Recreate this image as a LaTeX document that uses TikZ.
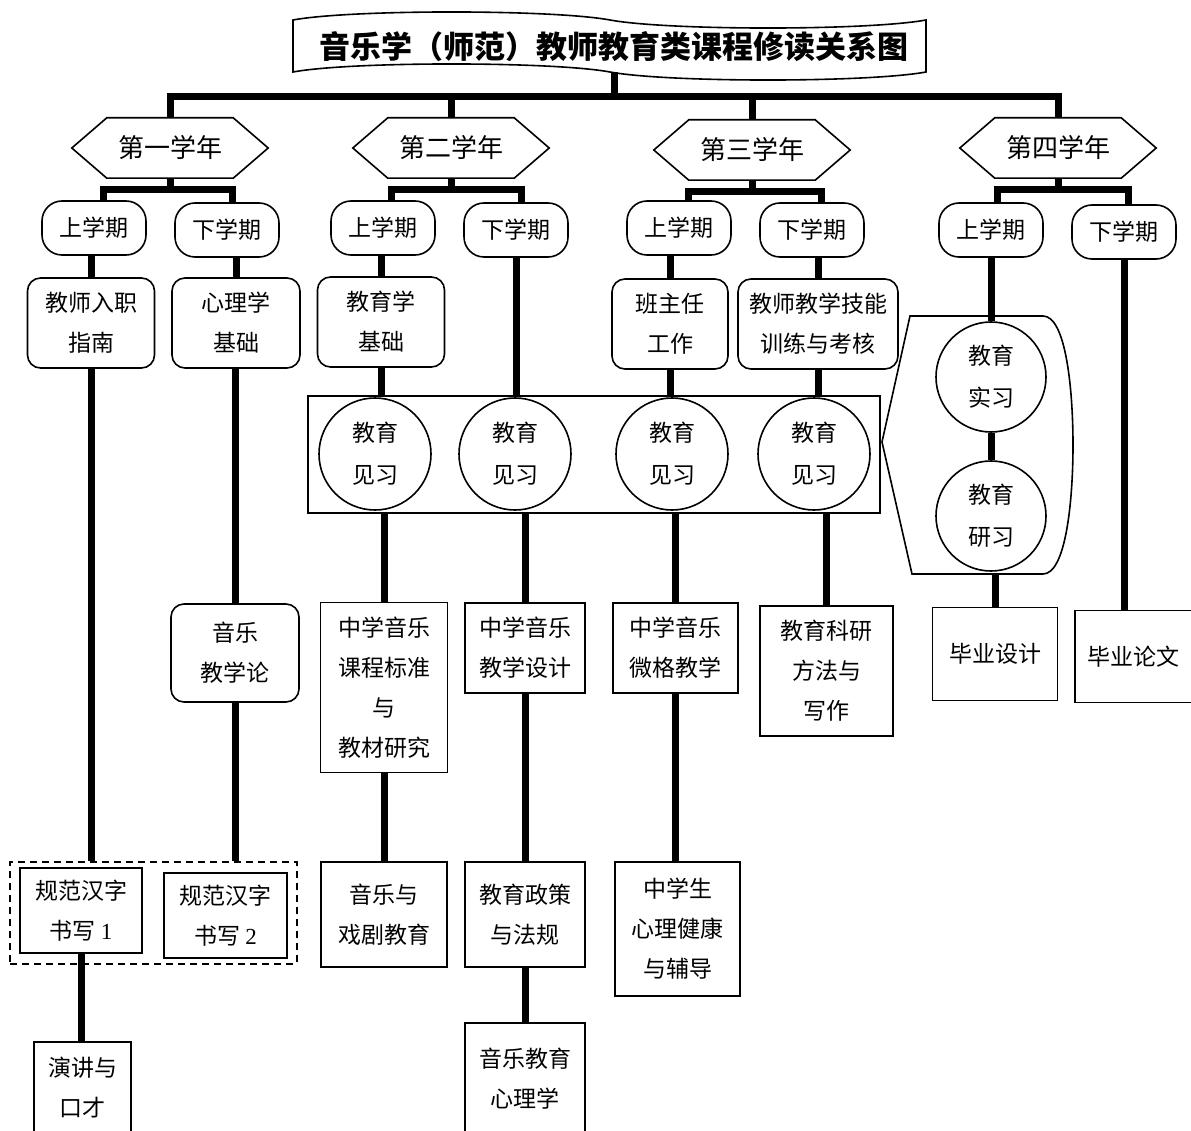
\documentclass[tikz,border=0pt]{standalone}
\usepackage{fontspec}
\setmainfont{Noto Sans CJK SC}
\newfontfamily\digf{Liberation Serif}
\usetikzlibrary{fit,calc}
\newcommand\hexfr[1]{\draw[outl] (#1.west) -- ([xshift=35pt]#1.north west) -- ([xshift=-35pt]#1.north east) -- (#1.east) -- ([xshift=-35pt]#1.south east) -- ([xshift=35pt]#1.south west) -- cycle;}
\begin{document}
\begin{tikzpicture}[x=1pt,y=-1pt,
  conn/.style={line width=7pt},
  outl/.style={line width=1.6pt},
  txt/.style={font=\fontsize{23}{40}\selectfont, align=center, inner sep=0pt},
  sem/.style={txt, draw, outl, rounded corners=20pt, minimum width=104pt, minimum height=54pt},
  rbox/.style={txt, draw, outl, rounded corners=13pt},
  pbox/.style={txt, draw, outl},
  circ/.style={txt, font=\fontsize{23}{42}\selectfont, draw, outl, circle, minimum size=112pt},
  yr/.style={font=\fontsize{26}{30}\selectfont, inner sep=0pt, minimum width=196pt, minimum height=60pt},
]
\useasboundingbox (0,0) rectangle (1191,1131);

% title banner
\draw[outl] (293,20) .. controls (351,9.3) and (552,9.3) .. (610,20) .. controls (668,30.7) and (868,30.7) .. (926,20)
  -- (926,72) .. controls (868,82.7) and (668,82.7) .. (610,72) .. controls (552,61.3) and (351,61.3) .. (293,72) -- cycle;
\node[font=\fontsize{31}{31}\selectfont\bfseries, inner sep=0pt] (ttl) at (614,47) {音乐学（师范）教师教育类课程修读关系图};
\coordinate (tb) at (614,72);
\coordinate (bus) at (614,97);

% years
\node[yr] (y1) at (170,148) {第一学年}; \hexfr{y1}
\node[yr] (y2) at (451,148) {第二学年}; \hexfr{y2}
\node[yr] (y3) at (752,150) {第三学年}; \hexfr{y3}
\node[yr] (y4) at (1058,148) {第四学年}; \hexfr{y4}

% semesters
\node[sem] (s1a) at (94,228) {上学期};
\node[sem] (s1b) at (227,230) {下学期};
\node[sem] (s2a) at (383,228) {上学期};
\node[sem] (s2b) at (516,230) {下学期};
\node[sem] (s3a) at (679,228) {上学期};
\node[sem] (s3b) at (812,230) {下学期};
\node[sem] (s4a) at (991,230) {上学期};
\node[sem] (s4b) at (1124,232) {下学期};

% rounded courses
\node[rbox, minimum width=127pt, minimum height=90pt] (r1) at (91,323) {教师入职\\指南};
\node[rbox, minimum width=128pt, minimum height=90pt] (r2) at (236,323) {心理学\\基础};
\node[rbox, minimum width=127pt, minimum height=90pt] (r3) at (381,322) {教育学\\基础};
\node[rbox, minimum width=116pt, minimum height=90pt] (r4) at (670,324) {班主任\\工作};
\node[rbox, minimum width=160pt, minimum height=90pt] (r5) at (818,324) {教师教学技能\\训练与考核};
\node[rbox, minimum width=128pt, minimum height=98pt] (r6) at (235,653) {音乐\\教学论};

% practice box and circles
\node[draw, outl, minimum width=572pt, minimum height=117pt, inner sep=0pt] (xb) at (594,454.5) {};
\node[circ] (c1) at (375,454) {教育\\见习};
\node[circ] (c2) at (515,454) {教育\\见习};
\node[circ] (c3) at (672,454) {教育\\见习};
\node[circ] (c4) at (814,454) {教育\\见习};

% bracket (display shape)
\node[minimum width=133pt, minimum height=258pt, inner sep=0pt] (br) at (976.5,445) {};
\draw[outl] (882,442) -- (910,316) -- (1043,316) .. controls (1066,316) and (1073,390) .. (1073,445)
  .. controls (1073,500) and (1066,574) .. (1043,574) -- (912,574) -- cycle;
\node[circ, minimum size=110pt] (c5) at (991,377) {教育\\实习};
\node[circ, minimum size=110pt] (c6) at (991,516) {教育\\研习};

% plain boxes
\node[pbox, minimum width=122pt, minimum height=85pt] (g1) at (81,910.5) {规范汉字\\书写 {\digf 1}};
\node[pbox, minimum width=123pt, minimum height=85pt] (g2) at (225.5,915.5) {规范汉字\\书写 {\digf 2}};
\node[draw, outl, dash pattern=on 7pt off 5pt, fit=(g1)(g2), inner xsep=9pt, inner ysep=5pt] (db) {};
\node[pbox, minimum width=97pt, minimum height=92pt] (g3) at (82.5,1088) {演讲与\\口才};
\node[pbox, minimum width=127pt, minimum height=170pt] (b1) at (384,687.5) {中学音乐\\课程标准\\与\\教材研究};
\node[pbox, minimum width=120pt, minimum height=90pt] (b2) at (525,648) {中学音乐\\教学设计};
\node[pbox, minimum width=125pt, minimum height=90pt] (b3) at (675.5,648) {中学音乐\\微格教学};
\node[pbox, minimum width=133pt, minimum height=130pt] (b4) at (826.5,671) {教育科研\\方法与\\写作};
\node[pbox, minimum width=126pt, minimum height=105pt] (b5) at (384,914.5) {音乐与\\戏剧教育};
\node[pbox, minimum width=120pt, minimum height=105pt] (b6) at (525,914.5) {教育政策\\与法规};
\node[pbox, minimum width=120pt, minimum height=112pt] (b7) at (525,1079) {音乐教育\\心理学};
\node[pbox, minimum width=125pt, minimum height=134pt] (b8) at (677.5,929) {中学生\\心理健康\\与辅导};
\node[pbox, minimum width=125pt, minimum height=93pt] (b9) at (995,654) {毕业设计};
\node[pbox, minimum width=117pt, minimum height=92pt] (b10) at (1133.5,656.5) {毕业论文};

% connectors
\draw[conn] (tb) -- (bus);
\draw[conn] (y1.north) -- (y1.north |- bus) -- (y4.north |- bus) -- (y4.north);
\draw[conn] (y2.north) -- (y2.north |- bus);
\draw[conn] (y3.north) -- (y3.north |- bus);

\coordinate (sb1) at (170,190);
\coordinate (sb2) at (451,190);
\coordinate (sb3) at (752,192);
\coordinate (sb4) at (1058,190);
\draw[conn] (y1.south) -- (sb1);
\draw[conn] (y2.south) -- (sb2);
\draw[conn] (y3.south) -- (sb3);
\draw[conn] (y4.south) -- (sb4);
\draw[conn] ([xshift=9pt]s1a.north) |- (sb1) -| ([xshift=5pt]s1b.north);
\draw[conn] ([xshift=8pt]s2a.north) |- (sb2) -| ([xshift=5pt]s2b.north);
\draw[conn] ([xshift=9pt]s3a.north) |- (sb3) -| ([xshift=9pt]s3b.north);
\draw[conn] ([xshift=6pt]s4a.north) |- (sb4) -| ([xshift=4pt]s4b.north);

\draw[conn] (r1.north) -- (r1.north |- s1a.south);
\draw[conn] (r2.north) -- (r2.north |- s1b.south);
\draw[conn] (r3.north) -- (r3.north |- s2a.south);
\draw[conn] (r4.north) -- (r4.north |- s3a.south);
\draw[conn] (r5.north) -- (r5.north |- s3b.south);

\draw[conn] (s2b.south) -- (s2b.south |- xb.north);
\draw[conn] (r3.south) -- (r3.south |- xb.north);
\draw[conn] (r4.south) -- (r4.south |- xb.north);
\draw[conn] (r5.south) -- (r5.south |- xb.north);

\draw[conn] (b1.north) -- (b1.north |- xb.south);
\draw[conn] (b2.north) -- (b2.north |- xb.south);
\draw[conn] (b3.north) -- (b3.north |- xb.south);
\draw[conn] (b4.north) -- (b4.north |- xb.south);

\draw[conn] (b1.south) -- (b1.south |- b5.north);
\draw[conn] (b2.south) -- (b2.south |- b6.north);
\draw[conn] (b6.south) -- (b6.south |- b7.north);
\draw[conn] (b3.south) -- (b3.south |- b8.north);

\draw[conn] (r1.south) -- (r1.south |- db.north);
\draw[conn] (r6.north) -- (r6.north |- r2.south);
\draw[conn] (r6.south) -- (r6.south |- db.north);
\draw[conn] (g1.south) -- (g1.south |- g3.north);

\draw[conn] (s4a.south) -- (s4a.south |- c5.north);
\draw[conn] (c5.south) -- (c6.north);
\draw[conn] (b9.north) -- (b9.north |- br.south);
\draw[conn] (s4b.south) -- (s4b.south |- b10.north);
\end{tikzpicture}
\end{document}
